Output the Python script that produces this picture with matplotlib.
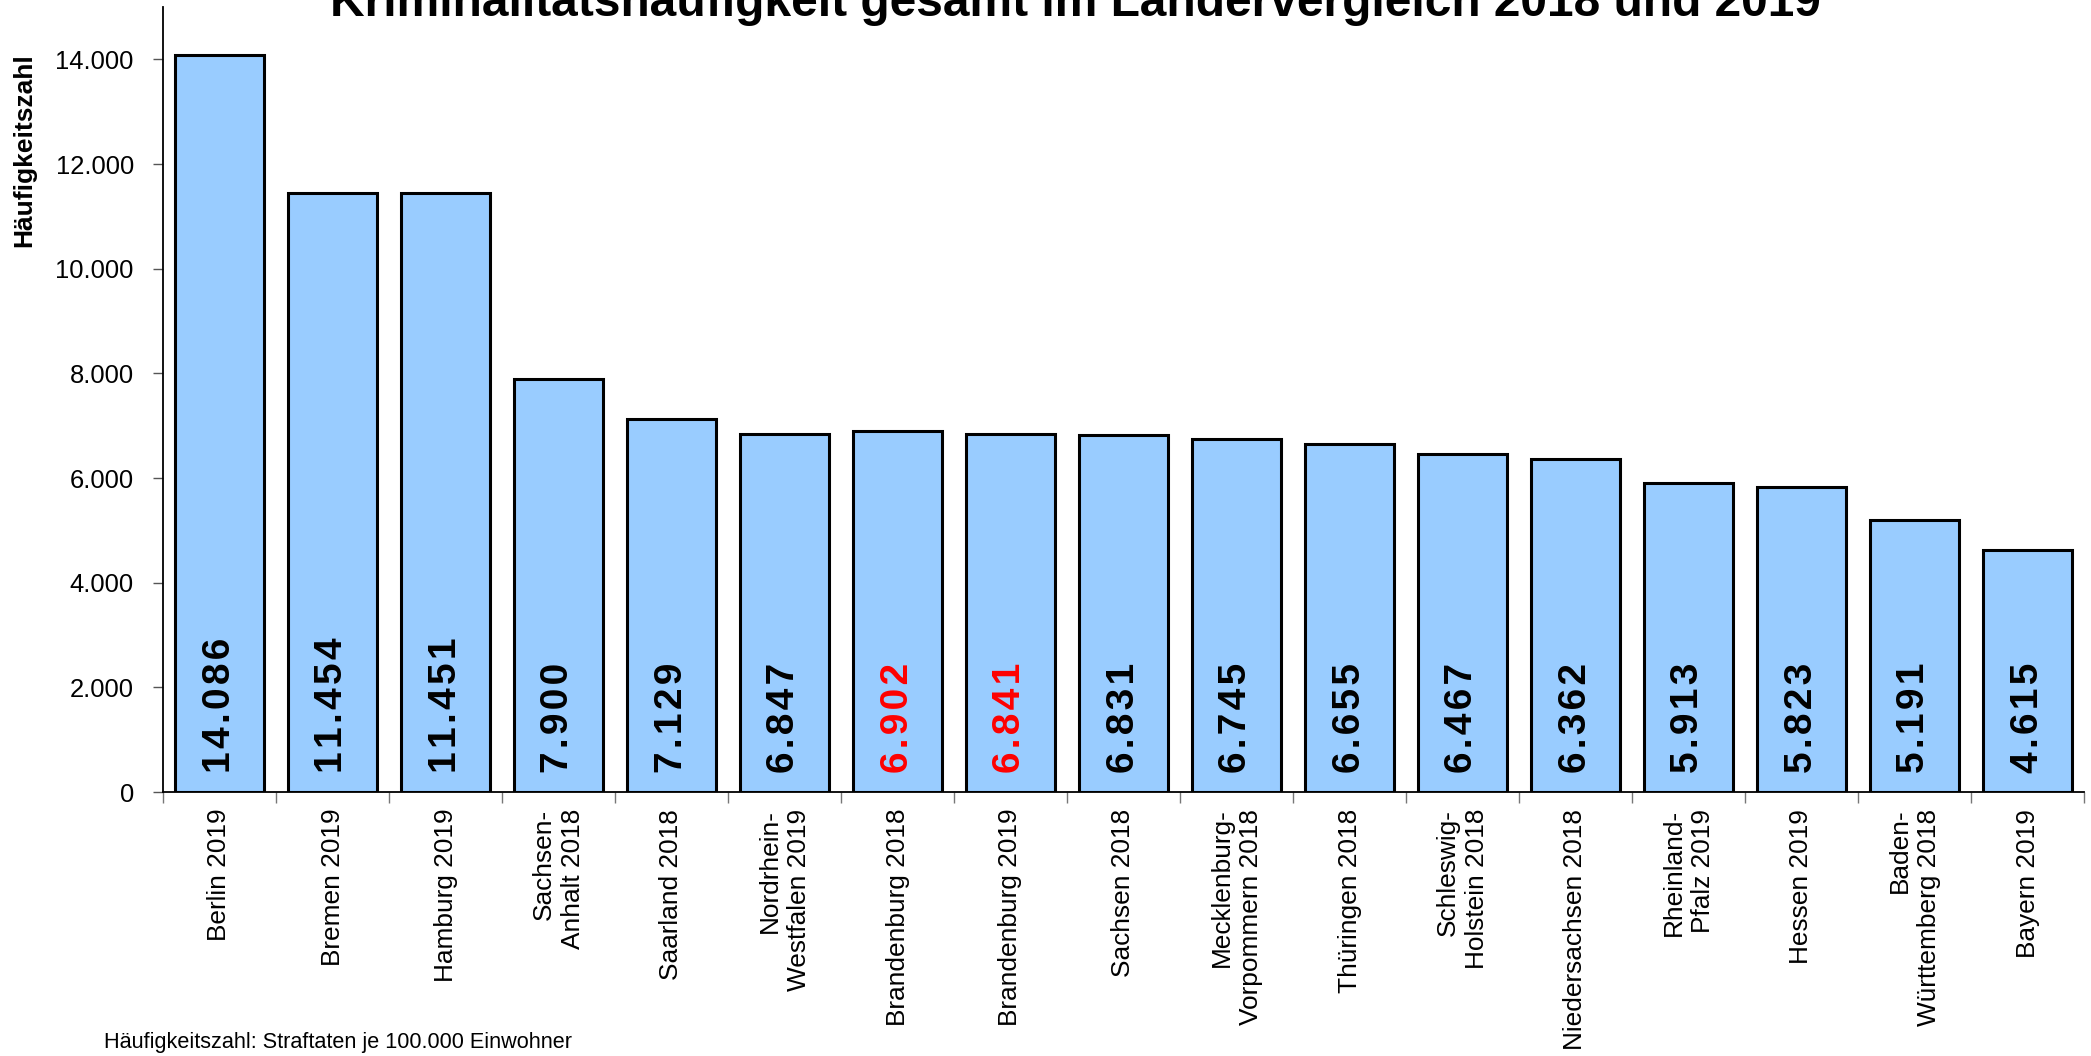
import matplotlib
matplotlib.use("Agg")
import matplotlib.pyplot as plt
from matplotlib import font_manager

laender = ["Berlin 2019", "Bremen 2019", "Hamburg 2019", "Sachsen-\nAnhalt 2018",
           "Saarland 2018", "Nordrhein-\nWestfalen 2019", "Brandenburg 2018",
           "Brandenburg 2019", "Sachsen 2018", "Mecklenburg-\nVorpommern 2018",
           "Thüringen 2018", "Schleswig-\nHolstein 2018", "Niedersachsen 2018",
           "Rheinland-\nPfalz 2019", "Hessen 2019", "Baden-\nWürttemberg 2018",
           "Bayern 2019"]
hz = [14086, 11454, 11451, 7900, 7129, 6847, 6902, 6841, 6831, 6745,
      6655, 6467, 6362, 5913, 5823, 5191, 4615]
hervorgehoben = ["Brandenburg 2018", "Brandenburg 2019"]
yticks = [0, 2000, 4000, 6000, 8000, 10000, 12000, 14000]

titel = "Kriminalitätshäufigkeit gesamt im Ländervergleich 2018 und 2019"
fussnote = "Häufigkeitszahl: Straftaten je 100.000 Einwohner"

names = {f.name for f in font_manager.fontManager.ttflist}
narrow = "Liberation Sans Narrow" if "Liberation Sans Narrow" in names else "Liberation Sans"
nf = 1.0 if narrow == "Liberation Sans Narrow" else 0.82
plt.rcParams["font.family"] = ["Liberation Sans", "DejaVu Sans"]


def fmt(v):
    return "{:,}".format(v).replace(",", ".")


def gesperrt(s):
    # Excel-Beschriftung ist leicht gesperrt
    return "\u200a".join(s)


def main():
    fig = plt.figure(figsize=(20.91, 10.56), dpi=100)
    ax = fig.add_axes([163 / 2091, 1 - 792 / 1056, 1921 / 2091, 785 / 1056])

    x = range(len(hz))
    ax.bar(x, hz, width=0.78, color="#99CCFF", edgecolor="black", linewidth=2.2, zorder=2)

    for i, v in enumerate(hz):
        farbe = "red" if laender[i].replace("\n", " ") in hervorgehoben else "black"
        ax.annotate(gesperrt(fmt(v)), (i, 0), xytext=(0, 14), textcoords="offset points",
                    rotation=90, ha="center", va="bottom", fontsize=28,
                    fontweight="bold", color=farbe, zorder=3)

    ax.set_xlim(-0.5, len(hz) - 0.5)
    ax.set_ylim(0, 15000)
    ax.set_yticks(yticks)
    ax.set_yticklabels([fmt(t) for t in yticks], family=narrow, fontsize=22.5 * nf)
    ax.tick_params(axis="y", direction="out", length=7, width=1, color="#555555", pad=14)

    ax.set_xticks(list(x))
    ax.set_xticklabels(laender, rotation=90, family=narrow, fontsize=23 * nf,
                       ha="center", va="top", multialignment="right", linespacing=1.3)
    ax.tick_params(axis="x", which="major", length=0, pad=12)
    ax.set_xticks([i - 0.5 for i in range(len(hz) + 1)], minor=True)
    ax.tick_params(axis="x", which="minor", direction="out", length=8, width=1, color="#777777")

    for s in ["top", "right"]:
        ax.spines[s].set_visible(False)
    for s in ["left", "bottom"]:
        ax.spines[s].set_linewidth(1.3)

    fig.text(24 / 2091, 1 - 53 / 1056, "Häufigkeitszahl", rotation=90, ha="center",
             va="top", fontsize=19, fontweight="bold")

    fig.text(104 / 2091, 1 - 1048 / 1056, fussnote, ha="left", va="baseline",
             family=narrow, fontsize=19 * nf)

    t = fig.text(1075 / 2091, 1 - 16 / 1056, titel, ha="center", va="baseline",
                 family=narrow, fontsize=44, fontweight="bold")
    fig.canvas.draw()
    w = t.get_window_extent().width
    t.set_fontsize(44 * 1490 / w)

    fig.savefig("out.png", dpi=100)


if __name__ == "__main__":
    main()
